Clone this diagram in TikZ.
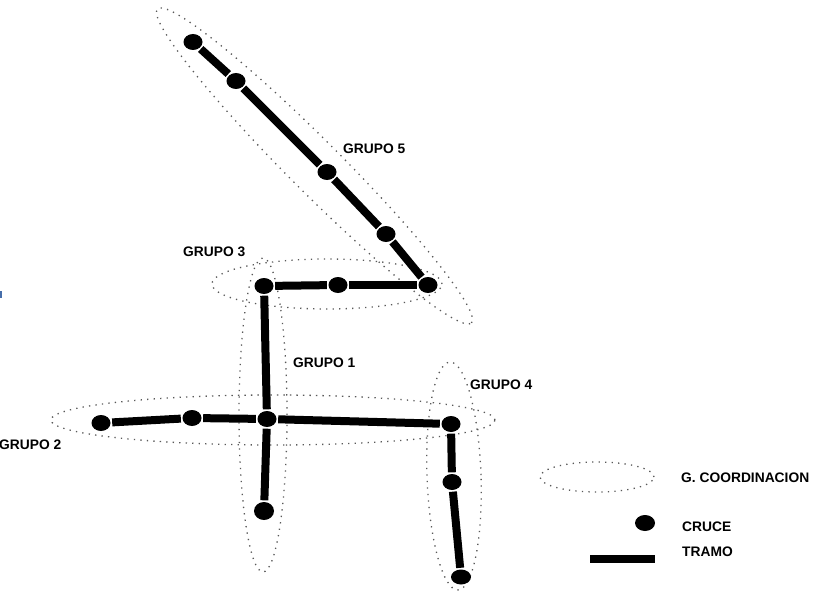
\documentclass[tikz,border=0pt]{standalone}
\usepackage{fontspec}
\setmainfont{Liberation Sans}
\usetikzlibrary{shapes.geometric}
\definecolor{markblue}{RGB}{70,110,170}
\begin{document}
\begin{tikzpicture}[x=1pt,y=-1pt,
 cruce/.style={ellipse,fill=black,inner sep=0,minimum width=19pt,minimum height=16pt},
 tramo/.style={line width=8pt,shorten >=1.5pt,shorten <=1.5pt},
 grp/.style={ellipse,draw=black!65,line width=1.3pt,dash pattern=on 1.3pt off 5.2pt,inner sep=0},
 lbl/.style={anchor=west,inner sep=0,font=\fontsize{13.8}{16}\selectfont\bfseries}]
\useasboundingbox (0,0) rectangle (816,591);
\fill[markblue] (0,291) rectangle (2,298);
% coordination groups
\node[grp,minimum width=444pt,minimum height=52pt,rotate=-45] (g5) at (314.5,166) {};
\node[grp,minimum width=230pt,minimum height=50pt] (g3) at (327,284) {};
\node[grp,minimum width=48pt,minimum height=314pt] (g1) at (263,415) {};
\node[grp,minimum width=444pt,minimum height=50pt] (g2) at (273,420) {};
\node[grp,minimum width=54pt,minimum height=228pt,rotate=2] (g4) at (454,476) {};
% crossings
\node[cruce] (n51) at (193,42) {};
\node[cruce] (n52) at (236,81) {};
\node[cruce] (n53) at (327,172) {};
\node[cruce] (n54) at (386,234) {};
\node[cruce] (n55) at (428,285) {};
\node[cruce] (n31) at (264,286) {};
\node[cruce] (n32) at (338,285) {};
\node[cruce] (n21) at (101,423) {};
\node[cruce] (n22) at (192,418) {};
\node[cruce] (n23) at (267,419) {};
\node[cruce] (n24) at (451,424) {};
\node[cruce,minimum width=20pt,minimum height=18pt] (n11) at (264,511) {};
\node[cruce] (n42) at (452,482) {};
\node[cruce,minimum width=20pt,minimum height=15pt] (n43) at (461,577) {};
% sections
\draw[tramo] (n51) -- (n52);
\draw[tramo] (n52) -- (n53);
\draw[tramo] (n53) -- (n54);
\draw[tramo] (n54) -- (n55);
\draw[tramo] (n31) -- (n32);
\draw[tramo] (n32) -- (n55);
\draw[tramo] (n31) -- (n23);
\draw[tramo] (n23) -- (n11);
\draw[tramo] (n21) -- (n22);
\draw[tramo] (n22) -- (n23);
\draw[tramo] (n23) -- (n24);
\draw[tramo] (n24) -- (n42);
\draw[tramo] (n42) -- (n43);
% labels
\node[lbl] (l5) at (343,149) {GRUPO 5};
\node[lbl] (l3) at (183,252) {GRUPO 3};
\node[lbl] (l1) at (293,363) {GRUPO 1};
\node[lbl] (l4) at (470,385) {GRUPO 4};
\node[lbl] (l2) at (-1,445) {GRUPO 2};
% legend
\node[grp,minimum width=114pt,minimum height=30pt] (lg) at (597,477) {};
\node[cruce,minimum width=20pt,minimum height=16pt] (lc) at (645,523) {};
\node[fill=black,inner sep=0,minimum width=65pt,minimum height=8pt] (lt) at (622.5,558.5) {};
\node[lbl] (tg) at (681,478) {G. COORDINACION};
\node[lbl] (tc) at (682,527) {CRUCE};
\node[lbl] (tt) at (682,552) {TRAMO};
\end{tikzpicture}
\end{document}
